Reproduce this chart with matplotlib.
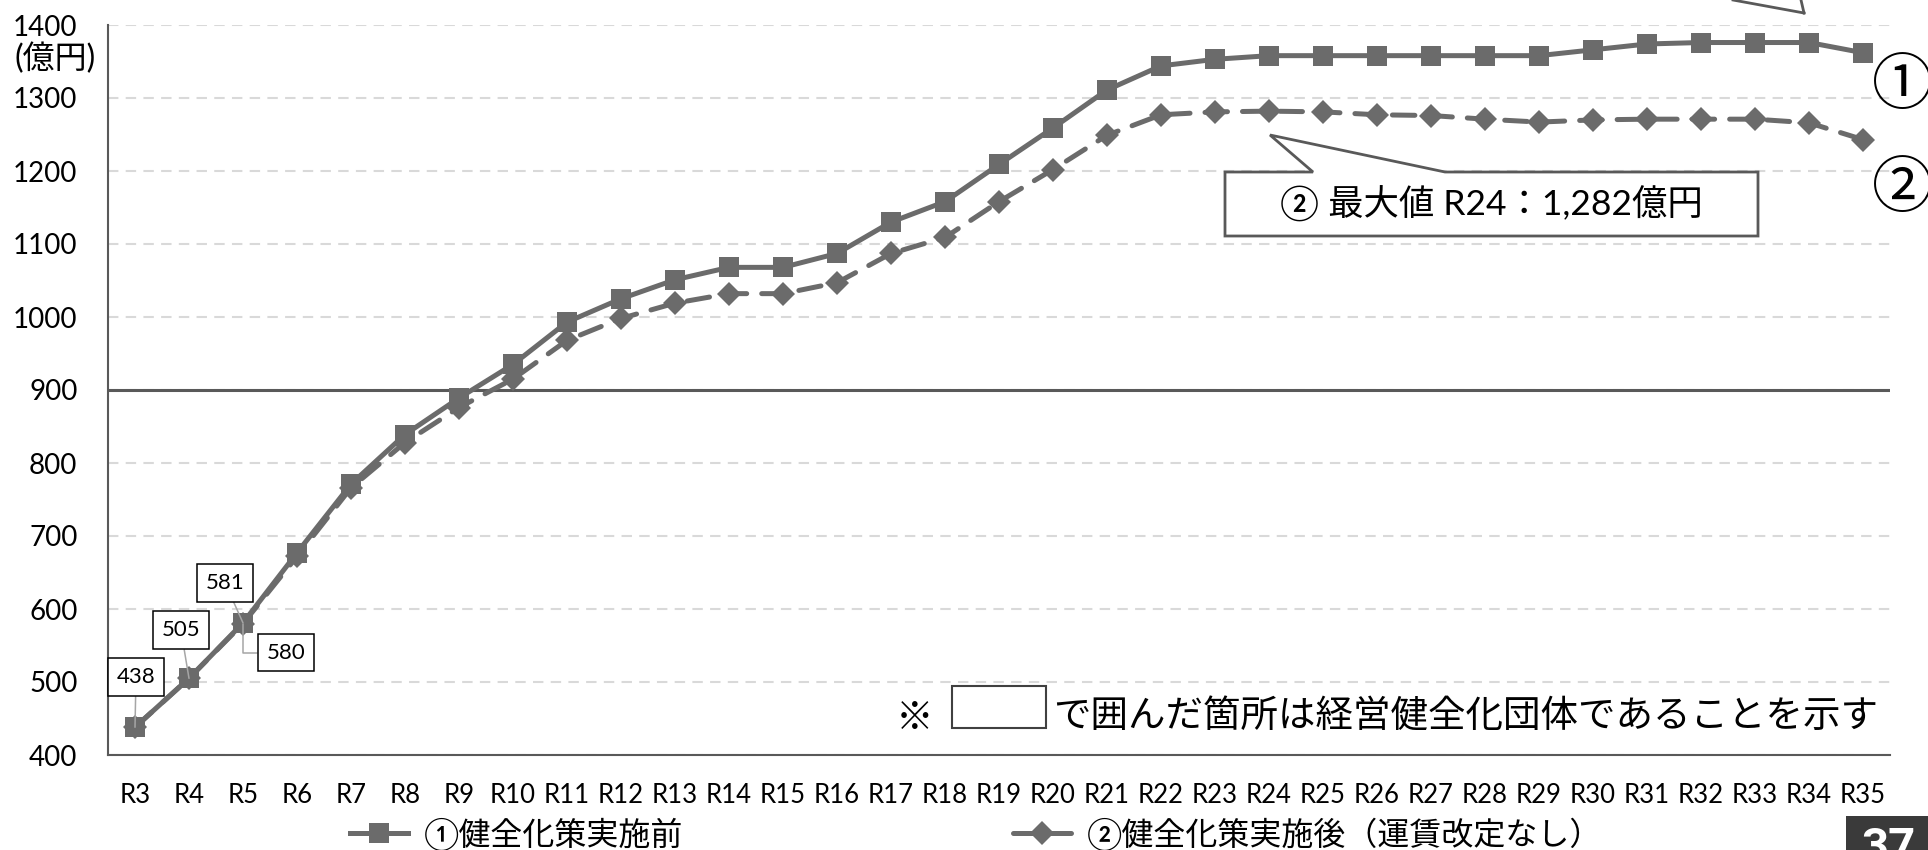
import matplotlib
matplotlib.use("Agg")
import matplotlib.pyplot as plt
from matplotlib.patches import Polygon, Rectangle
from matplotlib.lines import Line2D

# fiscal years on the x axis
years = ["R3", "R4", "R5", "R6", "R7", "R8", "R9", "R10", "R11", "R12", "R13",
         "R14", "R15", "R16", "R17", "R18", "R19", "R20", "R21", "R22", "R23",
         "R24", "R25", "R26", "R27", "R28", "R29", "R30", "R31", "R32", "R33",
         "R34", "R35"]

# ① before the soundness measures (億円)
beforeMeasures = [438, 505, 581, 677, 771, 839, 889, 935, 993, 1025, 1051,
                  1068, 1068, 1087, 1130, 1158, 1209, 1259, 1311, 1344, 1353,
                  1358, 1358, 1358, 1358, 1358, 1358, 1366, 1374, 1376, 1376,
                  1376, 1362]

# ② after the measures, no fare revision (億円)
afterMeasures = [438, 505, 580, 672, 766, 828, 876, 915, 968, 998, 1019,
                 1032, 1032, 1047, 1087, 1109, 1158, 1202, 1249, 1277, 1281,
                 1282, 1281, 1277, 1276, 1271, 1267, 1270, 1271, 1271, 1271,
                 1266, 1243]

seriesNames = ["①健全化策実施前", "②健全化策実施後（運賃改定なし）"]
yTicks = [400, 500, 600, 700, 800, 900, 1000, 1100, 1200, 1300, 1400]
threshold = 900

# which points get a value box: (series index, year, pixel offset of the box)
valueLabels = [(0, "R3", (1, 50)), (0, "R4", (-8, 48)),
               (0, "R5", (-18, 40)), (1, "R5", (43, -29))]

FIG_W, FIG_H = 1928, 850
GRAY = "#6b6b6b"
DARK = "#595959"


def figPos(x, y):
  # pixel position measured from the top-left corner -> figure fraction
  return (x / FIG_W, 1 - y / FIG_H)


def main():
  plt.rcParams["font.family"] = ["Lato", "Noto Sans CJK JP", "DejaVu Sans"]

  fig = plt.figure(figsize=(FIG_W / 100, FIG_H / 100), dpi=100)
  ax = fig.add_axes([108 / FIG_W, 95 / FIG_H, 1782 / FIG_W, 730 / FIG_H])

  xs = list(range(len(years)))
  series = [beforeMeasures, afterMeasures]

  # dashed series first so the solid one sits on top
  line2, = ax.plot(xs, afterMeasures, color=GRAY, lw=3.6, linestyle=(0, (4.5, 3)),
                   dash_capstyle="round", marker="D", markersize=12,
                   markeredgewidth=0, zorder=3)
  line1, = ax.plot(xs, beforeMeasures, color=GRAY, lw=3.6, marker="s",
                   markersize=14, markeredgewidth=0, zorder=4)

  ax.axhline(threshold, color=DARK, lw=2.2, zorder=2)

  ax.set_xlim(-0.5, len(years) - 0.5)
  ax.set_ylim(400, 1400)
  ax.set_yticks(yTicks)
  ax.set_xticks(xs)
  ax.set_xticklabels(years)
  ax.tick_params(axis="y", length=0, pad=22, labelsize=20)
  ax.tick_params(axis="x", length=0, pad=20, labelsize=18.5)

  ax.yaxis.grid(True, color="#d9d9d9", lw=1.5, linestyle=(0, (5, 3.5)))
  ax.set_axisbelow(True)
  for side in ["top", "right"]:
    ax.spines[side].set_visible(False)
  for side in ["left", "bottom"]:
    ax.spines[side].set_color(DARK)
    ax.spines[side].set_linewidth(1.5)

  # boxed value labels with leader lines
  for seriesIdx, year, offset in valueLabels:
    i = years.index(year)
    value = series[seriesIdx][i]
    conn = "arc3"
    if offset[1] < 0:
      conn = "angle,angleA=0,angleB=90,rad=0"
    ax.annotate(str(value), xy=(i, value), xytext=offset,
                textcoords="offset pixels", ha="center", va="center",
                fontsize=16, zorder=6,
                bbox=dict(boxstyle="square,pad=0.4", fc="white", ec="black", lw=1.1),
                arrowprops=dict(arrowstyle="-", color="#a6a6a6", lw=1.1,
                                shrinkA=0, shrinkB=0, connectionstyle=conn))

  # unit label under the top tick
  fig.text(*figPos(14, 58), "(億円)", fontsize=23, ha="left", va="center")

  # callout for the peak of series ②
  peakValue = max(afterMeasures)
  peakYear = years[afterMeasures.index(peakValue)]
  callout = [(1225, 172), (1313, 172), (1270, 135), (1445, 172),
             (1758, 172), (1758, 236), (1225, 236)]
  fig.patches.append(Polygon([figPos(x, y) for x, y in callout], closed=True,
                             transform=fig.transFigure, fc="white", ec=DARK,
                             lw=2, zorder=5))
  fig.text(*figPos(1491, 204), f"② 最大値 {peakYear}：{peakValue:,}億円",
           fontsize=25.5, ha="center", va="center", zorder=6)

  # tail of the callout for series ① (its box sits above the chart)
  for pts in [[(1733, 0), (1804, 13)], [(1801, 0), (1804, 13)]]:
    fig.lines.append(Line2D([figPos(*p)[0] for p in pts],
                            [figPos(*p)[1] for p in pts],
                            transform=fig.transFigure, color=DARK, lw=2))

  # series markers at the right edge
  fig.text(*figPos(1872, 87), "①", fontsize=44, ha="left", va="center",
           family=["Noto Sans CJK JP"])
  fig.text(*figPos(1872, 190), "②", fontsize=44, ha="left", va="center",
           family=["Noto Sans CJK JP"])

  # note about the boxed points
  fig.text(*figPos(915, 718), "※", fontsize=27, ha="center", va="center")
  fig.patches.append(Rectangle(figPos(952, 728), 94 / FIG_W, 42 / FIG_H,
                               transform=fig.transFigure, fc="white",
                               ec="#404040", lw=1.5))
  fig.text(*figPos(1053, 716), "で囲んだ箇所は経営健全化団体であることを示す",
           fontsize=27, ha="left", va="center")

  fig.legend([line1, line2], seriesNames, ncol=2, loc="center left",
             bbox_to_anchor=figPos(350, 834), frameon=False, fontsize=23,
             handlelength=1.8, handletextpad=0.5, columnspacing=10.35,
             borderpad=0, borderaxespad=0)

  # page number
  fig.patches.append(Rectangle(figPos(1846, 850), 82 / FIG_W, 34 / FIG_H,
                               transform=fig.transFigure, fc="#3a3a3a", ec="none"))
  fig.text(*figPos(1889, 861), "37", fontsize=34, weight="bold", color="white",
           ha="center", va="baseline", family=["Roboto"])

  fig.savefig("out.png", dpi=100)


if __name__ == "__main__":
  main()
